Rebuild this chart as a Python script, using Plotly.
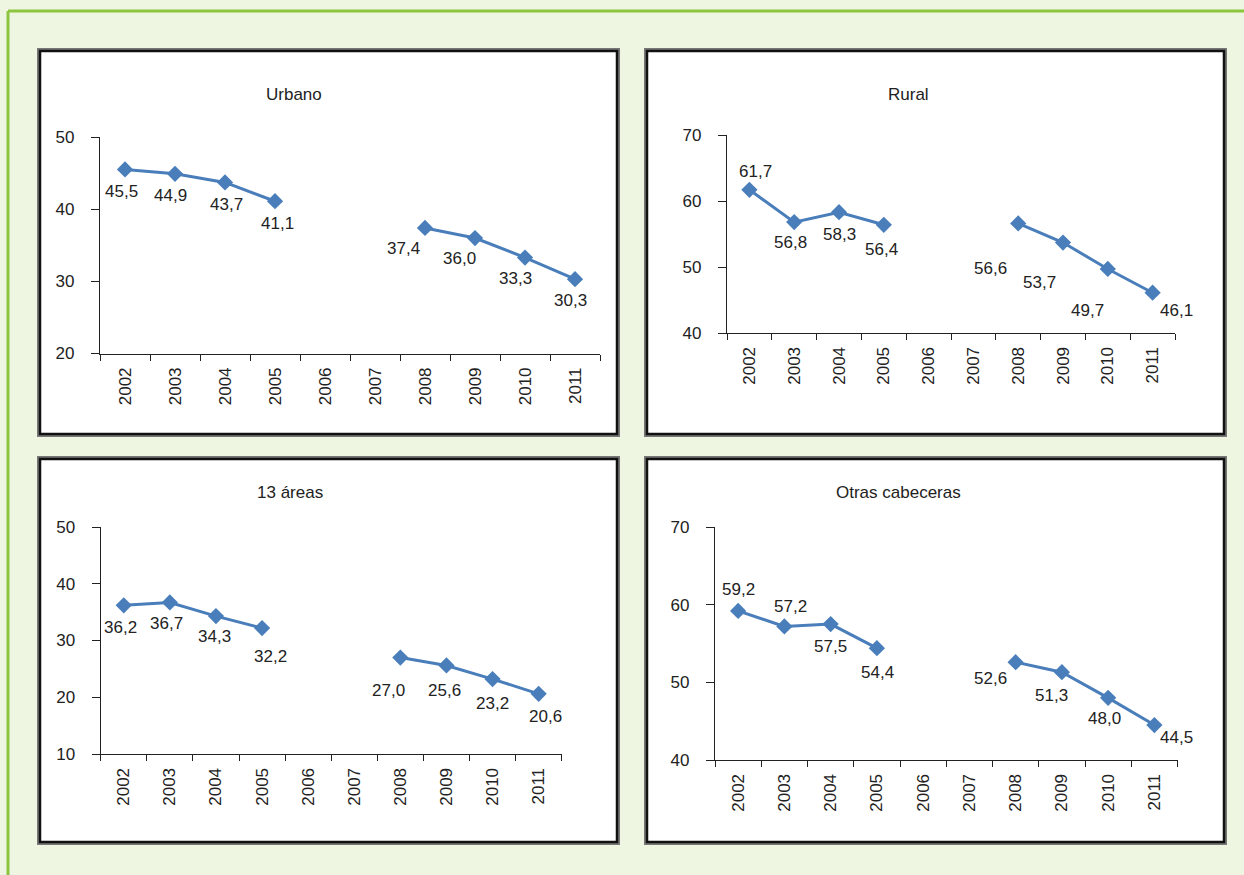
import plotly.graph_objects as go

# ---- data -------------------------------------------------------------
years = ["2002", "2003", "2004", "2005", "2006", "2007", "2008", "2009", "2010", "2011"]
urbano = [45.5, 44.9, 43.7, 41.1, None, None, 37.4, 36.0, 33.3, 30.3]
rural = [61.7, 56.8, 58.3, 56.4, None, None, 56.6, 53.7, 49.7, 46.1]
areas13 = [36.2, 36.7, 34.3, 32.2, None, None, 27.0, 25.6, 23.2, 20.6]
otras = [59.2, 57.2, 57.5, 54.4, None, None, 52.6, 51.3, 48.0, 44.5]

titles = ["Urbano", "Rural", "13 áreas", "Otras cabeceras"]
series = [urbano, rural, areas13, otras]
y_ranges = [(20, 50), (40, 70), (10, 50), (40, 70)]

# ---- layout helpers (pixel geometry of a 1244 x 875 page) -------------
W, H = 1244, 875
FONT = "Liberation Sans, Arial, Helvetica, sans-serif"
BLUE = "#4a7ebb"
TXT = "#222222"
FS = 17


def px_x(x):
    return x / W


def px_y(y):
    return 1 - y / H


# plot areas: (left, right, top, bottom) in pixels
plot_boxes = [
    (100, 600, 137, 353.5),
    (727, 1175, 135, 333),
    (100.7, 561.7, 527, 754),
    (715, 1177.5, 527, 760),
]
# outer framed panels
panel_boxes = [
    (40, 617, 51, 434),
    (647, 1224, 51, 434),
    (40, 617, 459, 842),
    (647, 1224, 459, 842),
]
title_pos = [(294, 95), (908, 94), (290, 493), (898, 493)]

# label offsets in pixels (dx right, dy down) for each point
label_offsets = [
    [(-4, 22), (-5, 22), (1, 22), (2, 22), None, None, (-22, 21), (-16, 20), (-10, 21), (-5, 21)],
    [(6, -18), (-4, 20), (0, 22), (-2, 25), None, None, (-28, 45), (-24, 40), (-20, 42), (24, 18)],
    [(-3, 22), (-3, 21), (-1, 20), (8, 28), None, None, (-12, 33), (-2, 25), (0, 24), (7, 23)],
    [(0, -21), (6, -20), (0, 22), (1, 24), None, None, (-25, 16), (-10, 23), (-4, 21), (22, 12)],
]

fig = go.Figure()
shapes = []
annotations = []

# page frame: green rule on the left and top edges
shapes.append(dict(type="line", xref="paper", yref="paper",
                   x0=px_x(8), x1=px_x(8), y0=px_y(11), y1=0,
                   line=dict(color="#8cc63e", width=3)))
shapes.append(dict(type="line", xref="paper", yref="paper",
                   x0=px_x(8), x1=1, y0=px_y(11), y1=px_y(11),
                   line=dict(color="#8cc63e", width=3)))

for (l, r, t, b) in panel_boxes:
    # soft grey halo then black frame
    shapes.append(dict(type="rect", xref="paper", yref="paper",
                       x0=px_x(l - 1), x1=px_x(r + 1), y0=px_y(b + 1), y1=px_y(t - 1),
                       fillcolor="white", line=dict(color="#777777", width=4), layer="below"))
    shapes.append(dict(type="rect", xref="paper", yref="paper",
                       x0=px_x(l), x1=px_x(r), y0=px_y(b), y1=px_y(t),
                       fillcolor="white", line=dict(color="#111111", width=2.5), layer="below"))

for i, (title, vals) in enumerate(zip(titles, series)):
    n = i + 1
    xa = "x" if n == 1 else f"x{n}"
    ya = "y" if n == 1 else f"y{n}"
    l, r, t, b = plot_boxes[i]

    fig.add_trace(go.Scatter(
        x=years, y=vals, xaxis=xa, yaxis=ya, mode="lines+markers",
        connectgaps=False,
        line=dict(color=BLUE, width=3),
        marker=dict(symbol="diamond", size=12.5, color=BLUE),
        hoverinfo="skip", showlegend=False,
    ))

    axis_x = dict(
        domain=[px_x(l), px_x(r)], anchor=ya, type="category",
        categoryorder="array", categoryarray=years,
        range=[-0.5, len(years) - 0.5], automargin=False,
        tickson="boundaries", ticks="outside", ticklen=6, tickwidth=1.3,
        ticklabelstandoff=6,
        tickcolor="#222", showline=True, linecolor="#222", linewidth=1.3,
        tickangle=-90, showgrid=False, zeroline=False,
        tickfont=dict(family=FONT, size=FS, color=TXT), fixedrange=True,
    )
    y0, y1 = y_ranges[i]
    axis_y = dict(
        domain=[px_y(b), px_y(t)], anchor=xa, range=[y0, y1], automargin=False,
        tickvals=list(range(y0, y1 + 1, 10)),
        ticks="outside", ticklen=8, tickwidth=1.3, tickcolor="#222",
        ticklabelstandoff=13,
        showline=True, linecolor="#222", linewidth=1.3,
        showgrid=False, zeroline=False,
        tickfont=dict(family=FONT, size=FS, color=TXT), fixedrange=True,
    )
    fig.layout[xa.replace("x", "xaxis")] = axis_x
    fig.layout[ya.replace("y", "yaxis")] = axis_y

    # panel title
    tx, ty = title_pos[i]
    annotations.append(dict(
        text=title, xref="paper", yref="paper", x=px_x(tx), y=px_y(ty),
        xanchor="center", yanchor="middle", showarrow=False,
        font=dict(family=FONT, size=FS, color=TXT)))

    # data labels, positioned by category index
    for k, (v, off) in enumerate(zip(vals, label_offsets[i])):
        if v is None:
            continue
        dx, dy = off
        annotations.append(dict(
            text=f"{v:.1f}".replace(".", ","), x=k, y=v, xref=xa, yref=ya,
            xshift=dx, yshift=-dy, showarrow=False,
            xanchor="center", yanchor="middle",
            font=dict(family=FONT, size=FS, color=TXT)))

fig.update_layout(
    width=W, height=H, autosize=False,
    margin=dict(l=0, r=0, t=0, b=0, pad=0),
    paper_bgcolor="#eef5e1", plot_bgcolor="rgba(0,0,0,0)",
    shapes=shapes, annotations=annotations,
    font=dict(family=FONT, color=TXT),
)

fig.write_html("out.html", config={"displayModeBar": False})
